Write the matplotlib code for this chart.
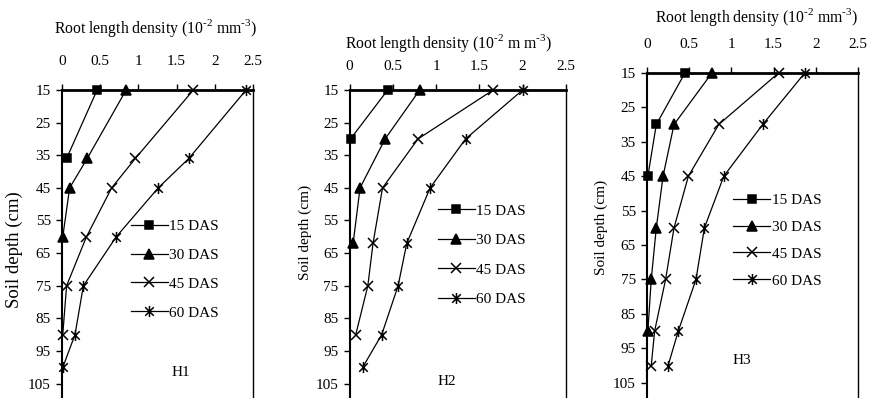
import matplotlib
matplotlib.use('Agg')
import matplotlib.pyplot as plt
from matplotlib.path import Path

plt.rcParams['font.family'] = ['Liberation Serif', 'DejaVu Serif']
plt.rcParams['mathtext.fontset'] = 'custom'
plt.rcParams['mathtext.rm'] = 'Liberation Serif'

# --- Data (root length density, 10^-2 m m^-3) ---
series_labels = ['15 DAS', '30 DAS', '45 DAS', '60 DAS']

h1_depth = [[15, 36], [15, 36, 45, 60], [15, 36, 45, 60, 75, 90], [15, 36, 45, 60, 75, 90, 100]]
h1_rld = [[0.46, 0.06], [0.84, 0.33, 0.10, 0.01], [1.72, 0.96, 0.65, 0.32, 0.06, 0.01],
          [2.41, 1.66, 1.26, 0.71, 0.28, 0.17, 0.01]]

h2_depth = [[15, 30], [15, 30, 45, 62], [15, 30, 45, 62, 75, 90], [15, 30, 45, 62, 75, 90, 100]]
h2_rld = [[0.44, 0.01], [0.81, 0.41, 0.12, 0.04], [1.66, 0.79, 0.38, 0.27, 0.21, 0.07],
          [2.00, 1.34, 0.93, 0.66, 0.56, 0.37, 0.15]]

h3_depth = [[15, 30, 45], [15, 30, 45, 60, 75, 90], [15, 30, 45, 60, 75, 90, 100],
            [15, 30, 45, 60, 75, 90, 100]]
h3_rld = [[0.45, 0.11, 0.01], [0.77, 0.32, 0.19, 0.11, 0.05, 0.01],
          [1.56, 0.85, 0.49, 0.32, 0.22, 0.09, 0.05],
          [1.87, 1.37, 0.91, 0.68, 0.58, 0.37, 0.25]]

x_ticks = [0, 0.5, 1, 1.5, 2, 2.5]
x_tick_labels = ['0', '0.5', '1', '1.5', '2', '2.5']
y_ticks = [15, 25, 35, 45, 55, 65, 75, 85, 95, 105]

# star marker (x with vertical bar)
star = Path([(-1, -1), (1, 1), (-1, 1), (1, -1), (0, -1.3), (0, 1.3)],
            [Path.MOVETO, Path.LINETO, Path.MOVETO, Path.LINETO, Path.MOVETO, Path.LINETO])
markers = ['s', '^', 'x', star]
msizes = [6, 7, 7, 8]

fig = plt.figure(figsize=(8.72, 3.98), dpi=100)

panels = [
    # rect, depth, rld, H name, title, title pos, ylabel (x, y, size), legend anchor, spacing, H pos, tick pad
    ([0.0711, -0.005, 0.219, 0.779], h1_depth, h1_rld, 'H1',
     r'Root length density (10$^{\text{-2}}$ mm$^{\text{-3}}$)', (0.49, 1.20),
     (-0.205, 0.484, 13.5), (0.33, 0.602), 0.99, (0.62, 0.09), 12),
    ([0.401, -0.005, 0.248, 0.779], h2_depth, h2_rld, 'H2',
     r'Root length density (10$^{\text{-2}}$ m m$^{\text{-3}}$)', (0.455, 1.152),
     (-0.176, 0.542, 11), (0.38, 0.652), 1.03, (0.45, 0.06), 8),
    ([0.742, -0.005, 0.242, 0.822], h3_depth, h3_rld, 'H3',
     r'Root length density (10$^{\text{-2}}$ mm$^{\text{-3}}$)', (0.52, 1.171),
     (-0.185, 0.526, 11), (0.38, 0.65), 0.86, (0.45, 0.12), 12),
]

for rect, depths, rlds, hname, title, tpos, ylab, leg_anchor, lspace, hpos, tpad in panels:
    ax = fig.add_axes(rect)
    for d, v, lab, mk, ms in zip(depths, rlds, series_labels, markers, msizes):
        ax.plot(v, d, color='black', lw=0.9, marker=mk, markersize=ms,
                markerfacecolor='black', markeredgecolor='black', markeredgewidth=1.1,
                label=lab, clip_on=False)
    ax.set_xlim(0, 2.5)
    ax.set_ylim(110, 15)
    ax.xaxis.tick_top()
    ax.set_xticks(x_ticks)
    ax.set_xticklabels(x_tick_labels)
    ax.set_yticks(y_ticks)
    ax.tick_params(axis='x', direction='out', length=4, width=1, pad=tpad, labelsize=11)
    ax.tick_params(axis='y', direction='out', length=4, width=1, pad=4, labelsize=11)
    ax.spines['top'].set_linewidth(2.0)
    ax.spines['left'].set_linewidth(1.5)
    ax.spines['right'].set_linewidth(1.0)
    ax.spines['bottom'].set_linewidth(1.0)
    ax.text(tpos[0], tpos[1], title, transform=ax.transAxes, ha='center', va='center', fontsize=11.3)
    ax.set_ylabel('Soil depth (cm)', fontsize=ylab[2])
    ax.yaxis.set_label_coords(ylab[0], ylab[1])
    ax.legend(loc='upper left', bbox_to_anchor=leg_anchor, frameon=False, fontsize=11,
              handlelength=2.4, handletextpad=0.1, labelspacing=lspace, borderaxespad=0)
    ax.text(hpos[0], hpos[1], hname, transform=ax.transAxes, ha='center', va='center', fontsize=11)

fig.savefig('out.png', dpi=100)
